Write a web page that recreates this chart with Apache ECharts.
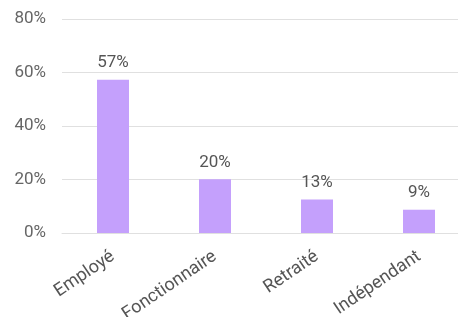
<!DOCTYPE html>
<html>
<head>
    <meta charset="utf-8">
    <title>Statut</title>
    <script src="https://cdn.jsdelivr.net/npm/echarts@6/dist/echarts.min.js"></script>
    <style type="text/css">
        * {
            margin: 0px;
            padding: 0px;
        }

        body {
            overflow: hidden;
        }

        /* le graphique d'origine déborde à droite de la fenêtre */
        #main {
            width: 470px;
            height: 317px;
        }
    </style>
</head>
<body>
<div id="main"></div>
<script type="text/javascript">
    // données
    var categories = ['Employé', 'Fonctionnaire', 'Retraité', 'Indépendant'];
    var values = [57.3, 20.1, 12.5, 8.7];
    var yTicks = [0, 20, 40, 60, 80];

    var myChart = echarts.init(document.getElementById('main'));

    var option = {
        animation: false,
        textStyle: {fontFamily: 'Roboto'},
        grid: {
            left: 62,
            top: 19,
            right: 0,
            bottom: 84,
            containLabel: false,
            outerBoundsMode: 'none'
        },
        xAxis: {
            type: 'category',
            data: categories,
            axisLine: {lineStyle: {color: '#e0e0e0', width: 1}},
            axisTick: {show: false},
            axisLabel: {
                rotate: 34,
                interval: 0,
                margin: 22,
                fontSize: 18,
                color: '#555'
            }
        },
        yAxis: {
            type: 'value',
            min: yTicks[0],
            max: yTicks[yTicks.length - 1],
            interval: 20,
            axisLine: {show: false},
            axisTick: {show: false},
            splitLine: {lineStyle: {color: '#e0e0e0', width: 1}},
            axisLabel: {
                fontSize: 17,
                color: '#666',
                margin: 16,
                formatter: '{value}%'
            }
        },
        series: [{
            type: 'bar',
            data: values,
            barWidth: 32,
            itemStyle: {color: '#c4a0fc'},
            label: {
                show: true,
                position: 'top',
                distance: 8,
                fontSize: 17,
                color: '#555',
                formatter: function (p) {
                    return Math.round(p.value) + '%';
                }
            }
        }]
    };

    myChart.setOption(option);
</script>
</body>
</html>
